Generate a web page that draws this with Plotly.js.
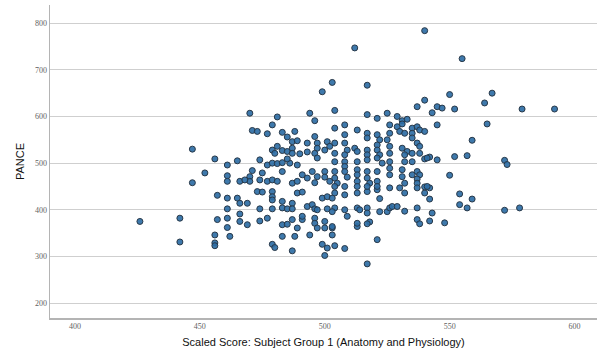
<!DOCTYPE html>
<html>
<head>
<meta charset="utf-8">
<script src="https://cdn.plot.ly/plotly-3.0.1.min.js"></script>
<style>
  html, body { margin: 0; padding: 0; background: #ffffff; }
  #chart { width: 605px; height: 358px; }
</style>
</head>
<body>
<div id="chart"></div>
<script>
// Scaled score in Subject Group 1 (Anatomy and Physiology) for each student
const scaledScore = [
  540, 512, 555, 503, 517, 567, 550, 540, 564, 579, 592, 552, 545, 547, 543, 537, 504, 517, 521, 525,
  529, 531, 533, 565, 545, 559, 557, 552, 572, 573, 550, 554, 559, 557, 554, 572, 578, 548, 542, 543,
  537, 538, 537, 532, 542, 540, 540, 542, 537, 538, 537, 537, 542, 540, 521, 517, 508, 504, 518, 517,
  513, 513, 509, 503, 503, 522, 508, 504, 513, 508, 517, 517, 521, 522, 521, 526, 526, 529, 531, 530,
  532, 535, 537, 538, 540, 535, 535, 525, 526, 537, 538, 504, 504, 508, 509, 508, 512, 513, 517, 517,
  521, 522, 526, 531, 533, 532, 535, 538, 541, 545, 504, 508, 508, 513, 517, 521, 523, 526, 532, 535,
  504, 504, 505, 508, 509, 513, 513, 513, 517, 517, 518, 521, 521, 526, 526, 531, 531, 532, 535, 541,
  526, 530, 504, 508, 513, 517, 521, 532, 537, 504, 508, 513, 514, 517, 517, 522, 525, 526, 527, 529,
  504, 508, 513, 517, 521, 470, 481, 494, 496, 471, 473, 477, 479, 483, 488, 485, 487, 489, 481, 479,
  480, 483, 485, 487, 487, 490, 493, 493, 496, 497, 497, 496, 497, 501, 500, 502, 456, 461, 465, 474,
  477, 479, 481, 483, 486, 485, 489, 471, 470, 470, 452, 461, 461, 466, 468, 474, 477, 479, 481, 475,
  483, 487, 489, 491, 493, 495, 497, 496, 500, 500, 502, 499, 447, 457, 461, 461, 465, 466, 469, 473,
  475, 479, 479, 479, 474, 479, 483, 483, 485, 487, 487, 489, 491, 493, 495, 496, 497, 499, 501, 503,
  501, 503, 457, 461, 466, 466, 469, 474, 477, 483, 485, 487, 489, 491, 491, 496, 496, 497, 500, 500,
  503, 456, 456, 456, 462, 483, 488, 479, 480, 487, 494, 499, 501, 500, 426, 442, 442, 447, 461
];

// PANCE score for the same students, in the same order
const panceScore = [
  784, 747, 724, 673, 667, 650, 647, 635, 629, 616, 616, 616, 621, 618, 608, 621, 613, 604, 596, 607,
  600, 591, 594, 584, 582, 549, 516, 514, 506, 497, 474, 434, 423, 404, 411, 399, 404, 372, 376, 393,
  379, 370, 404, 397, 423, 436, 449, 447, 482, 475, 466, 457, 513, 509, 336, 284, 317, 323, 374, 370,
  364, 371, 386, 361, 346, 424, 582, 575, 571, 561, 564, 554, 561, 550, 539, 582, 564, 578, 584, 568,
  564, 575, 578, 571, 568, 564, 554, 550, 536, 543, 536, 543, 521, 543, 528, 518, 532, 525, 528, 518,
  528, 518, 521, 532, 525, 518, 521, 521, 511, 507, 503, 503, 493, 503, 507, 511, 500, 503, 503, 503,
  482, 468, 457, 482, 470, 486, 475, 461, 482, 468, 457, 482, 461, 489, 475, 486, 471, 457, 475, 450,
  447, 447, 436, 432, 436, 439, 443, 436, 447, 404, 400, 404, 400, 404, 393, 396, 396, 404, 407, 407,
  450, 450, 450, 450, 450, 607, 599, 607, 591, 570, 568, 563, 582, 566, 568, 556, 546, 548, 536, 528,
  521, 527, 525, 532, 521, 520, 543, 524, 557, 543, 532, 521, 511, 546, 528, 536, 509, 496, 505, 507,
  496, 500, 499, 501, 500, 509, 496, 484, 471, 461, 479, 473, 461, 461, 464, 464, 461, 464, 461, 479,
  482, 457, 461, 475, 468, 482, 471, 458, 482, 470, 461, 653, 530, 431, 425, 402, 425, 414, 414, 439,
  438, 439, 428, 421, 402, 402, 418, 404, 402, 414, 402, 436, 438, 407, 411, 402, 400, 425, 428, 425,
  402, 396, 379, 382, 391, 375, 368, 376, 382, 368, 369, 379, 361, 379, 386, 382, 371, 361, 375, 361,
  364, 346, 329, 323, 343, 343, 343, 326, 319, 312, 346, 326, 318, 302, 375, 382, 331, 458, 362
];

// Axis tick values
const xTicks = [400, 450, 500, 550, 600];
const yTicks = [200, 300, 400, 500, 600, 700, 800];

const trace = {
  type: 'scatter',
  mode: 'markers',
  x: scaledScore,
  y: panceScore,
  marker: {
    size: 6,
    color: 'rgba(46, 110, 165, 0.92)',
    line: { color: '#283848', width: 1 }
  },
  hoverinfo: 'x+y'
};

const tickFont = { family: 'Liberation Serif, serif', size: 8, color: '#5f5f5f' };

const layout = {
  width: 605,
  height: 358,
  margin: { l: 50, r: 8, t: 5, b: 40 },
  paper_bgcolor: '#ffffff',
  plot_bgcolor: '#ffffff',
  showlegend: false,
  xaxis: {
    range: [390, 609],
    tickvals: xTicks,
    ticktext: xTicks.map(String),
    tickfont: tickFont,
    ticks: '',
    showgrid: false,
    zeroline: false,
    showline: true,
    linecolor: '#b4b4b4',
    linewidth: 1.5,
    automargin: false,
    title: {
      text: 'Scaled Score: Subject Group 1 (Anatomy and Physiology)',
      font: { family: 'Liberation Sans, Arial, sans-serif', size: 11, color: '#111111' },
      standoff: 8
    }
  },
  yaxis: {
    range: [168, 839],
    tickvals: yTicks,
    ticktext: yTicks.map(String),
    tickfont: tickFont,
    ticks: '',
    showgrid: true,
    gridcolor: '#cfcfcf',
    gridwidth: 1,
    zeroline: false,
    showline: true,
    linecolor: '#b4b4b4',
    linewidth: 1.5,
    automargin: false,
    title: {
      text: 'PANCE',
      font: { family: 'Liberation Sans, Arial, sans-serif', size: 11, color: '#111111' },
      standoff: 8
    }
  }
};

Plotly.newPlot('chart', [trace], layout, { displayModeBar: false, staticPlot: true });
</script>
</body>
</html>
